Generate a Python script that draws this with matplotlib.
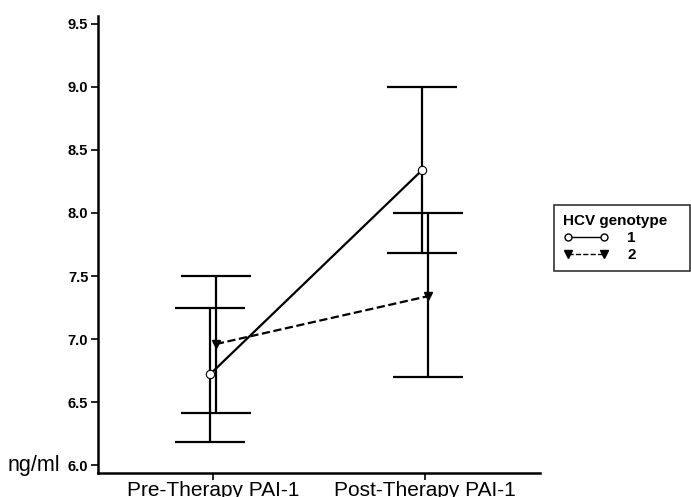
import matplotlib
matplotlib.use("Agg")
import matplotlib.pyplot as plt

plt.rcParams["font.family"] = ["Liberation Sans", "DejaVu Sans"]

CATEGORIES = ["Pre-Therapy PAI-1", "Post-Therapy PAI-1"]
G1_MEAN = [6.72, 8.34]
G1_LOW = [6.18, 7.68]
G1_HIGH = [7.25, 9.00]
G2_MEAN = [6.96, 7.34]
G2_LOW = [6.41, 6.70]
G2_HIGH = [7.50, 8.00]
YTICKS = [6.0, 6.5, 7.0, 7.5, 8.0, 8.5, 9.0, 9.5]

fig = plt.figure(figsize=(6.91, 4.97), dpi=100)
ax = fig.add_axes([98 / 691, 24 / 497, 442 / 691, 457 / 497])

xs = [0, 1]
off = 0.014
x1 = [x - off for x in xs]
x2 = [x + off for x in xs]

# error bars (caps + stems) and connecting lines
ax.errorbar(x1, G1_MEAN,
            yerr=[[m - l for m, l in zip(G1_MEAN, G1_LOW)],
                  [h - m for m, h in zip(G1_MEAN, G1_HIGH)]],
            fmt="-", color="black", lw=1.6, capsize=25, capthick=1.6, zorder=2)
ax.errorbar(x2, G2_MEAN,
            yerr=[[m - l for m, l in zip(G2_MEAN, G2_LOW)],
                  [h - m for m, h in zip(G2_MEAN, G2_HIGH)]],
            fmt="--", color="black", lw=1.6, capsize=25, capthick=1.6, zorder=2)
# markers on top
ax.plot(x1, G1_MEAN, "o", mfc="white", mec="black", ms=6, mew=0.8, zorder=4)
ax.plot(x2, G2_MEAN, "v", mfc="black", mec="black", ms=6, zorder=4)

ax.set_xlim(-0.542, 1.542)
ax.set_ylim(5.937, 9.563)
ax.set_yticks(YTICKS, [f"{v:.1f}" for v in YTICKS], fontweight="bold", fontsize=10.5)
ax.set_xticks(xs, CATEGORIES, fontsize=15)
ax.tick_params(axis="y", length=5, width=1.2, pad=2)
ax.tick_params(axis="x", length=5, width=1.2, pad=1)
for s in ("top", "right"):
    ax.spines[s].set_visible(False)
for s in ("left", "bottom"):
    ax.spines[s].set_linewidth(1.8)

fig.text(8 / 691, 1 - 466 / 497, "ng/ml", fontsize=15.5, va="center", ha="left")

h1, = ax.plot([], [], "-", color="black", lw=1, marker="o", mfc="white", mec="black", ms=5)
h2, = ax.plot([], [], "--", color="black", lw=1, marker="v", mfc="black", ms=6)
leg = fig.legend([h1, h2], ["1", "2"], title="HCV genotype", numpoints=2,
                 loc="upper left", mode="expand", borderaxespad=0,
                 bbox_to_anchor=(554 / 691, 1 - 274 / 497, 136 / 691, 69 / 497),
                 frameon=True, fancybox=False, edgecolor="black",
                 prop={"weight": "bold", "size": 11}, handlelength=3.0,
                 borderpad=0.6, labelspacing=0.2, handletextpad=1.2)
leg.get_title().set_fontweight("bold")
leg.get_title().set_fontsize(11)
leg._legend_box.align = "left"
leg.get_frame().set_linewidth(1.2)

fig.savefig("out.png", dpi=100, facecolor="white")
